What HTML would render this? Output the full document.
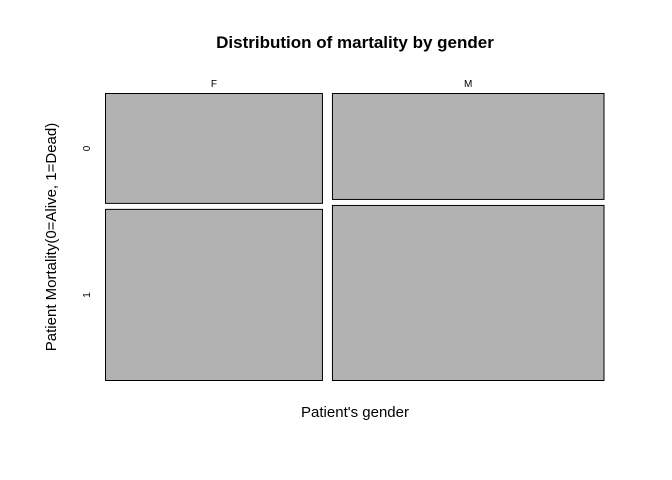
<!DOCTYPE html>
<html><head><meta charset="utf-8"><style>
html,body{margin:0;padding:0;background:#fff;}
svg{display:block;font-family:"Liberation Sans",Arial,sans-serif;}
</style></head><body>
<svg id="chart" width="672" height="480" viewBox="0 0 672 480">
<text x="355" y="48" text-anchor="middle" font-size="17" font-weight="bold">Distribution of martality by gender</text>
<text x="355" y="417" text-anchor="middle" font-size="15">Patient's gender</text>
<text transform="translate(56,237) rotate(-90)" text-anchor="middle" font-size="15">Patient Mortality(0=Alive, 1=Dead)</text>
<g id="cells"></g>
</svg>
<script>
const genders = ["F", "M"];
const outcomes = ["0", "1"];
const countsAlive = [174, 210];
const countsDead = [271, 347];

const svg = document.getElementById('chart');
const g = document.getElementById('cells');
const NS = 'http://www.w3.org/2000/svg';
const x0 = 105.5, x1 = 604, y0 = 93.5, y1 = 380.5, gapX = 10, gapY = 6;
const totals = genders.map((_, i) => countsAlive[i] + countsDead[i]);
const grand = totals.reduce((a, b) => a + b, 0);
const availW = (x1 - x0) - gapX * (genders.length - 1);
const availH = (y1 - y0) - gapY;
function xScale(frac) { return frac * availW; }
function yScale(frac) { return frac * availH; }
let cx = x0;
genders.forEach((gname, i) => {
  const w = xScale(totals[i] / grand);
  const vals = [countsAlive[i], countsDead[i]];
  let cy = y0;
  vals.forEach((v, j) => {
    const h = yScale(v / totals[i]);
    const r = document.createElementNS(NS, 'rect');
    r.setAttribute('x', cx); r.setAttribute('y', cy);
    r.setAttribute('width', w); r.setAttribute('height', h);
    r.setAttribute('fill', '#b2b2b2'); r.setAttribute('stroke', '#000'); r.setAttribute('stroke-width', '1');
    
    
    g.appendChild(r);
    if (i === 0) {
      const t = document.createElementNS(NS, 'text');
      const ly = cy + h / 2;
      t.setAttribute('transform', 'translate(90,' + ly + ') rotate(-90)');
      t.setAttribute('text-anchor', 'middle'); t.setAttribute('font-size', '10');
      t.textContent = outcomes[j];
      
      
      svg.appendChild(t);
    }
    cy += h + gapY;
  });
  const t = document.createElementNS(NS, 'text');
  t.setAttribute('x', cx + w / 2); t.setAttribute('y', 87);
  t.setAttribute('text-anchor', 'middle'); t.setAttribute('font-size', '10');
  t.textContent = gname;
  
  
  svg.appendChild(t);
  cx += w + gapX;
});
</script>
</body></html>
